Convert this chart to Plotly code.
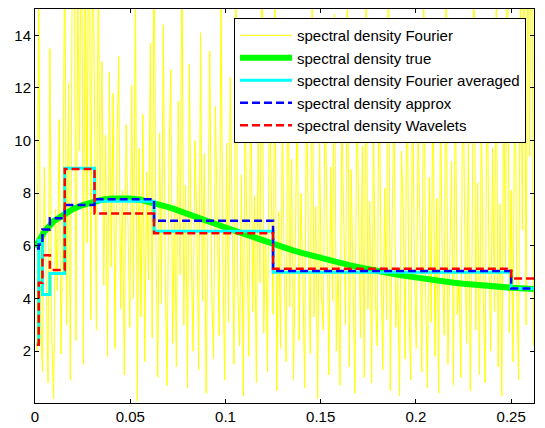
import plotly.graph_objects as go

# ---------------- data ----------------
# Fourier periodogram, sampled at k/1024, k = 1..268
fourier_values = [
    2.0, 16.0, 3.5, 1.2, 9.0, 5.5, 0.8, 13.5, 2.6, 0.2, 7.4, 4.3, 10.8, 1.9, 6.7, 18.0, 3.0, 12.2, 0.9, 16.5,
    20.0, 2.4, 15.8, 9.6, 22.0, 1.5, 17.3, 6.1, 25.0, 3.2, 19.0, 11.4, 2.8, 16.9, 7.7, 13.0, 4.5, 10.2, 1.8, 12.6,
    5.2, 11.8, 2.1, 9.4, 13.2, 3.6, 8.1, 1.1, 10.6, 6.8, 2.9, 12.1, 4.0, 16.2, 0.1, 9.7, 3.3, 11.0, 1.6, 8.8,
    4.7, 13.7, 2.5, 18.5, 6.4, 1.0, 10.3, 3.8, 14.4, 5.0, 0.7, 9.1, 12.7, 2.3, 7.6, 1.4, 11.5, 4.9, 17.8, 3.0,
    8.3, 0.6, 12.9, 5.7, 2.0, 10.0, 6.9, 1.3, 14.1, 3.9, 9.5, 0.4, 7.2, 13.4, 4.2, 1.7, 11.3, 6.0, 2.6, 15.6,
    5.4, 0.9, 9.9, 3.1, 12.4, 7.0, 1.5, 16.8, 4.4, 2.2, 8.7, 0.3, 11.7, 5.9, 1.8, 13.9, 3.5, 7.9, 0.8, 10.4,
    4.6, 19.5, 2.7, 6.6, 1.2, 12.0, 8.5, 3.4, 15.2, 0.5, 7.3, 2.1, 10.9, 5.1, 1.6, 14.6, 3.7, 9.3, 0.9, 6.2,
    11.9, 2.4, 8.0, 4.8, 0.6, 13.1, 5.8, 1.9, 16.4, 3.3, 7.5, 0.2, 10.1, 4.1, 2.8, 12.5, 6.5, 1.1, 9.0, 3.9,
    14.8, 2.0, 5.3, 0.7, 11.1, 7.1, 3.0, 17.0, 1.4, 8.9, 4.5, 0.4, 12.3, 6.3, 2.5, 9.8, 1.0, 15.3, 3.6, 7.7,
    0.8, 10.7, 4.0, 2.2, 13.6, 5.6, 1.3, 8.2, 3.2, 18.8, 0.5, 6.8, 11.6, 2.9, 4.9, 0.3, 9.6, 7.4, 1.7, 14.2,
    3.8, 0.9, 12.8, 5.0, 2.1, 10.5, 6.7, 1.2, 15.9, 4.3, 0.6, 8.6, 3.1, 13.3, 1.8, 7.8, 0.4, 11.2, 5.5, 2.6,
    16.1, 1.5, 6.1, 9.2, 0.7, 12.6, 3.4, 4.7, 1.0, 14.0, 7.0, 2.3, 10.2, 0.5, 5.9, 17.4, 2.8, 8.4, 1.1, 11.4,
    4.2, 0.8, 13.8, 6.0, 2.0, 9.7, 3.5, 15.5, 1.4, 7.6, 0.3, 12.2, 5.2, 19.0, 2.7, 8.1, 1.6, 14.5, 4.4, 0.9,
    16.7, 6.6, 21.0, 3.0, 18.2, 9.4, 24.0, 2.2,
]
fourier_freq = [k / 1024 for k in range(1, len(fourier_values) + 1)]

# true spectral density
true_freq = [0.000, 0.005, 0.010, 0.015, 0.020, 0.025, 0.030, 0.035, 0.040, 0.045,
             0.050, 0.055, 0.060, 0.065, 0.070, 0.075, 0.080, 0.085, 0.090, 0.095,
             0.100, 0.105, 0.110, 0.115, 0.120, 0.125, 0.130, 0.135, 0.140, 0.145,
             0.150, 0.155, 0.160, 0.165, 0.170, 0.175, 0.180, 0.185, 0.190, 0.195,
             0.200, 0.205, 0.210, 0.215, 0.220, 0.225, 0.230, 0.235, 0.240, 0.245,
             0.250, 0.255, 0.262]
true_values = [5.95, 6.55, 6.95, 7.20, 7.40, 7.55, 7.67, 7.75, 7.80, 7.82,
               7.80, 7.76, 7.68, 7.58, 7.47, 7.35, 7.23, 7.10, 6.97, 6.84,
               6.70, 6.57, 6.44, 6.31, 6.19, 6.07, 5.95, 5.84, 5.73, 5.63,
               5.53, 5.44, 5.35, 5.27, 5.19, 5.11, 5.04, 4.97, 4.91, 4.85,
               4.79, 4.74, 4.69, 4.64, 4.60, 4.56, 4.52, 4.49, 4.46, 4.43,
               4.41, 4.39, 4.36]

# dyadic band edges for the step estimates
band_edges = [0.000977, 0.001953, 0.003906, 0.007813, 0.015625, 0.03125, 0.0625, 0.125, 0.25, 0.262]
averaged_values = [2.30, 6.20, 4.15, 4.95, 8.95, 7.70, 6.56, 5.00, 4.38]
approx_values = [5.90, 6.05, 6.62, 7.05, 7.55, 7.77, 6.95, 5.05, 4.38]
wavelet_values = [2.24, 4.60, 5.64, 5.08, 8.92, 7.23, 6.48, 5.13, 4.76]

x_ticks = [0, 0.05, 0.1, 0.15, 0.2, 0.25]
x_tick_text = ["0", "0.05", "0.1", "0.15", "0.2", "0.25"]
y_ticks = [2, 4, 6, 8, 10, 12, 14]
y_tick_text = ["2", "4", "6", "8", "10", "12", "14"]

names = ["spectral density Fourier", "spectral density true",
         "spectral density Fourier averaged", "spectral density approx",
         "spectral density Wavelets"]


def step_xy(vals):
    return list(band_edges), list(vals) + [vals[-1]]


fig = go.Figure()
fig.add_trace(go.Scatter(x=fourier_freq, y=fourier_values, mode="lines",
                         line=dict(color="#FFFF00", width=1), name=names[0]))
fig.add_trace(go.Scatter(x=true_freq, y=true_values, mode="lines",
                         line=dict(color="#00FF00", width=6), name=names[1]))
sx, sy = step_xy(averaged_values)
fig.add_trace(go.Scatter(x=sx, y=sy, mode="lines", line_shape="hv",
                         line=dict(color="#00FFFF", width=3), name=names[2]))
sx, sy = step_xy(approx_values)
fig.add_trace(go.Scatter(x=sx, y=sy, mode="lines", line_shape="hv",
                         line=dict(color="#0000FF", width=2.5, dash="8px,4px"), name=names[3]))
sx, sy = step_xy(wavelet_values)
fig.add_trace(go.Scatter(x=sx, y=sy, mode="lines", line_shape="hv",
                         line=dict(color="#FF0000", width=2.5, dash="8px,4px"), name=names[4]))

axis_common = dict(showline=True, linecolor="black", linewidth=1, mirror="ticks",
                   ticks="inside", ticklen=4, tickcolor="black", showgrid=False,
                   zeroline=False, tickfont=dict(family="Liberation Sans, Arial", size=15, color="black"))

# page body has an 8px default margin, so the figure is sized/offset to compensate
fig.update_layout(
    width=537, height=420,
    margin=dict(l=27, r=11, t=1, b=25),
    paper_bgcolor="white", plot_bgcolor="white",
    xaxis=dict(range=[0, 0.262], tickvals=x_ticks, ticktext=x_tick_text, **axis_common),
    yaxis=dict(range=[0.03, 15], tickvals=y_ticks, ticktext=y_tick_text, **axis_common),
    legend=dict(x=0.984, y=0.977, xanchor="right", yanchor="top",
                bgcolor="white", bordercolor="black", borderwidth=1,
                font=dict(family="Liberation Sans, Arial", size=15, color="black"),
                itemwidth=52, tracegroupgap=0),
    showlegend=True,
)

fig.write_html("out.html")
